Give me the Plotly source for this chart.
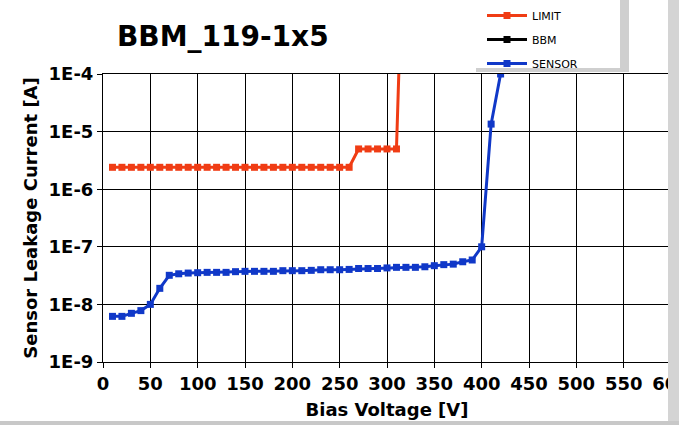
import plotly.graph_objects as go

# bias voltage steps [V]
limit_voltage = [10, 20, 30, 40, 50, 60, 70, 80, 90, 100, 110, 120, 130, 140, 150, 160,
                 170, 180, 190, 200, 210, 220, 230, 240, 250, 260, 270, 280, 290, 300, 310, 320]
limit_current = [2.4e-6, 2.4e-6, 2.4e-6, 2.4e-6, 2.4e-6, 2.4e-6, 2.4e-6, 2.4e-6, 2.4e-6, 2.4e-6,
                 2.4e-6, 2.4e-6, 2.4e-6, 2.4e-6, 2.4e-6, 2.4e-6, 2.4e-6, 2.4e-6, 2.4e-6, 2.4e-6,
                 2.4e-6, 2.4e-6, 2.4e-6, 2.4e-6, 2.4e-6, 2.4e-6, 5.0e-6, 5.0e-6, 5.0e-6, 5.0e-6,
                 5.0e-6, 1.0]

sensor_voltage = [10, 20, 30, 40, 50, 60, 70, 80, 90, 100, 110, 120, 130, 140, 150, 160, 170,
                  180, 190, 200, 210, 220, 230, 240, 250, 260, 270, 280, 290, 300, 310, 320,
                  330, 340, 350, 360, 370, 380, 390, 400, 410, 420]
sensor_current = [6.2e-9, 6.2e-9, 7.0e-9, 7.8e-9, 1.0e-8, 1.9e-8, 3.2e-8, 3.4e-8, 3.5e-8,
                  3.55e-8, 3.6e-8, 3.6e-8, 3.6e-8, 3.7e-8, 3.75e-8, 3.75e-8, 3.75e-8, 3.75e-8,
                  3.85e-8, 3.85e-8, 3.85e-8, 3.9e-8, 4.0e-8, 4.0e-8, 4.0e-8, 4.05e-8, 4.2e-8,
                  4.2e-8, 4.2e-8, 4.3e-8, 4.4e-8, 4.4e-8, 4.4e-8, 4.5e-8, 4.7e-8, 4.9e-8,
                  5.0e-8, 5.5e-8, 5.9e-8, 1.0e-7, 1.35e-5, 1.0e-4]

# BBM curve has no measurements in this run
bbm_voltage = [None]
bbm_current = [None]

x_ticks = [0, 50, 100, 150, 200, 250, 300, 350, 400, 450, 500, 550, 600]
y_ticks = [1e-9, 1e-8, 1e-7, 1e-6, 1e-5, 1e-4]
y_ticktext = ['1E-9', '1E-8', '1E-7', '1E-6', '1E-5', '1E-4']

limit_color = '#F03C14'
bbm_color = 'black'
sensor_color = '#1038C8'
FONT = 'DejaVu Sans'

W, H = 679, 425
ML, MR, MT, MB = 103, 8, 74, 63
pw, ph = W - ML - MR, H - MT - MB


def px_x(p):
    return (p - ML) / pw


def px_y(p):
    return (H - MB - p) / ph


fig = go.Figure()
fig.add_trace(go.Scatter(x=limit_voltage, y=limit_current, name='LIMIT', mode='lines+markers',
                         line=dict(color=limit_color, width=3),
                         marker=dict(symbol='square', size=7, color=limit_color),
                         legendgroup='a'))
fig.add_trace(go.Scatter(x=bbm_voltage, y=bbm_current, name='BBM', mode='lines+markers',
                         line=dict(color=bbm_color, width=3),
                         marker=dict(symbol='square', size=7, color=bbm_color),
                         legendgroup='b', showlegend=True))
fig.add_trace(go.Scatter(x=sensor_voltage, y=sensor_current, name='SENSOR', mode='lines+markers',
                         line=dict(color=sensor_color, width=3),
                         marker=dict(symbol='square', size=7, color=sensor_color),
                         legendgroup='c'))

fig.update_layout(
    width=W, height=H, margin=dict(l=ML, r=MR, t=MT, b=MB, autoexpand=False),
    paper_bgcolor='white', plot_bgcolor='white',
    font=dict(family=FONT, color='black'),
    title=dict(text='BBM_119-1x5', font=dict(family=FONT, size=28, weight='bold'),
               x=117 / W, xanchor='left', xref='container',
               y=1 - 36 / H, yanchor='middle', yref='container'),
    legend=dict(x=px_x(482), y=px_y(1), xanchor='left', yanchor='top',
                bgcolor='rgba(0,0,0,0)', borderwidth=0, traceorder='grouped', tracegroupgap=5,
                font=dict(family='Tahoma, DejaVu Sans', size=11), itemwidth=40),
    showlegend=True,
)
fig.update_xaxes(range=[0, 600], tickvals=x_ticks, showgrid=True, gridcolor='black', gridwidth=1,
                 showline=True, linecolor='black', linewidth=1, mirror=True,
                 ticks='outside', ticklen=5, tickcolor='black', zeroline=False, automargin=False,
                 ticklabeloverflow='allow',
                 tickfont=dict(family=FONT, size=18, weight='bold'),
                 title=dict(text='Bias Voltage [V]', standoff=10,
                            font=dict(family=FONT, size=18, weight='bold')))
fig.update_yaxes(type='log', range=[-9, -4], tickvals=y_ticks, ticktext=y_ticktext,
                 showgrid=True, gridcolor='black', gridwidth=1,
                 showline=True, linecolor='black', linewidth=1, mirror=True,
                 ticks='outside', ticklen=5, tickcolor='black', automargin=False,
                 tickfont=dict(family=FONT, size=18, weight='bold'),
                 title=dict(text='Sensor Leakage Current [A]', standoff=6,
                            font=dict(family=FONT, size=18, weight='bold')))

# frame decorations: legend panel with shadow, right and bottom panel edges
fig.add_shape(type='rect', xref='paper', yref='paper', x0=px_x(476), x1=px_x(629),
              y0=px_y(72), y1=px_y(0), fillcolor='#cfcfcf', line_width=0, layer='below')
fig.add_shape(type='rect', xref='paper', yref='paper', x0=px_x(470), x1=px_x(620),
              y0=px_y(68), y1=px_y(0), fillcolor='white', line_width=0, layer='below')
fig.add_shape(type='rect', xref='paper', yref='paper', x0=px_x(668), x1=px_x(679),
              y0=px_y(H), y1=px_y(0), fillcolor='#d4d4d4', line_width=0, layer='above')
fig.add_shape(type='rect', xref='paper', yref='paper', x0=px_x(0), x1=px_x(679),
              y0=px_y(H), y1=px_y(421), fillcolor='#c8c8c8', line_width=0, layer='above')

# drop the default page margin so the figure sits at the window origin
fig.write_html('out.html', config={'displayModeBar': False},
               post_script="document.body.style.margin='0';")
